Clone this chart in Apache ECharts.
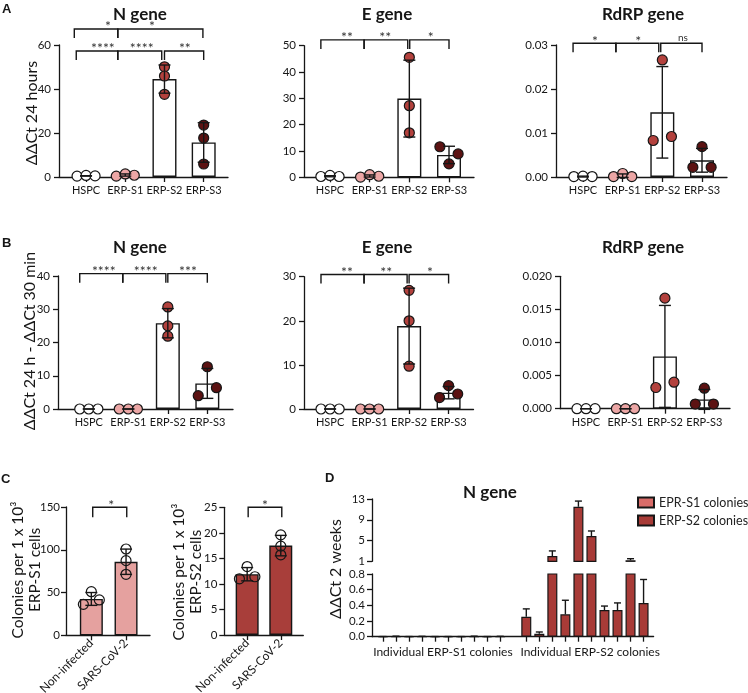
<!DOCTYPE html>
<html>
<head>
<meta charset="utf-8">
<script src="https://cdn.jsdelivr.net/npm/echarts@6/dist/echarts.min.js"></script>
<style>
html, body { margin: 0; padding: 0; background: #fff; }
#chart { width: 748px; height: 693px; }
</style>
</head>
<body>
<div id="chart"></div>
<script>
// 分组与颜色
var groups = ['HSPC', 'ERP-S1', 'ERP-S2', 'ERP-S3'];
var dotFill = ['#ffffff', '#eca6a5', '#b3413d', '#5c1212'];
var barFill = ['#ffffff', '#ffffff', '#ffffff', '#ffffff'];

// A - N gene (ΔΔCt 24 hours)
var aNPts = [[0.4, 0.7, 0.5], [0.4, 1.4, 0.8], [50.1, 45.9, 37.6], [23.6, 17.7, 5.9]];
var aNMean = [0.5, 0.9, 44.5, 15.7];
var aNSd = [0.1, 0.5, 6.4, 9.0];
var aNJit = [[-1, 0, 1], [-1, 0, 1], [0, 0, 0], [0, 0, 0]];
var aNBrk = [[-0.3, 0.81, 67.3], [0.81, 2.98, 67.3], [-0.25, 0.81, 57.3], [0.81, 1.93, 57.3], [2.0, 3.0, 57.3]];
var aNSig = [[0.56, 67.3, '*'], [1.68, 67.3, '*'], [0.43, 57.3, '****'], [1.42, 57.3, '****'], [2.52, 57.3, '**']];

// A - E gene
var aEPts = [[0.3, 0.7, 0.3], [0.1, 1.0, 0.4], [45.6, 27.2, 16.9], [11.6, 5.1, 8.9]];
var aEMean = [0.4, 0.5, 29.9, 8.5];
var aESd = [0.2, 0.4, 14.6, 3.3];
var aEJit = [[-1, 0, 1], [-1, 0, 1], [0, 0, 0], [-1, 0, 1]];
var aEBrk = [[-0.23, 0.86, 52.2], [0.86, 1.96, 52.2], [2.01, 3.0, 52.2]];
var aESig = [[0.43, 52.2, '**'], [1.39, 52.2, '**'], [2.54, 52.2, '*']];

// A - RdRP gene
var aRPts = [[0.0001, 0.0002, 0.0001], [0.0001, 0.0008, 0.0001], [0.0083, 0.0266, 0.0092], [0.0022, 0.0069, 0.0022]];
var aRMean = [0.0001, 0.0003, 0.0147, 0.0038];
var aRSd = [0.0001, 0.0004, 0.0104, 0.0027];
var aRJit = [[-1, 0, 1], [-1, 0, 1], [-1, 0, 1], [-1, 0, 1]];
var aRBrk = [[-0.25, 0.83, 0.0304], [0.83, 1.91, 0.0304], [1.96, 3.0, 0.0304]];
var aRSig = [[0.30, 0.0304, '*'], [1.39, 0.0304, '*'], [2.52, 0.0304, 'ns']];

// B - N gene (ΔΔCt 24 h - ΔΔCt 30 min)
var bNPts = [[0, 0, 0], [0, 0, 0], [30.7, 25.0, 21.9], [4.0, 12.7, 6.4]];
var bNMean = [0, 0, 25.8, 7.7];
var bNSd = [0, 0, 4.4, 4.5];
var bNJit = [[-1, 0, 1], [-1, 0, 1], [0, 0, 0], [-1, 0, 1]];
var bNBrk = [[-0.23, 0.86, 40.7], [0.86, 1.95, 40.7], [2.0, 3.0, 40.7]];
var bNSig = [[0.38, 40.7, '****'], [1.44, 40.7, '****'], [2.51, 40.7, '***']];

// B - E gene
var bEPts = [[0, 0, 0], [0, 0, 0], [26.9, 20.0, 9.7], [2.6, 5.3, 3.4]];
var bEMean = [0, 0, 18.8, 3.7];
var bESd = [0, 0, 8.6, 1.4];
var bEJit = [[-1, 0, 1], [-1, 0, 1], [0, 0, 0], [-1, 0, 1]];
var bEBrk = [[-0.23, 0.86, 30.5], [0.86, 1.95, 30.5], [2.0, 3.0, 30.5]];
var bESig = [[0.43, 30.5, '**'], [1.42, 30.5, '**'], [2.53, 30.5, '*']];

// B - RdRP gene
var bRPts = [[0, 0, 0], [0, 0, 0], [0.0032, 0.0167, 0.0040], [0.0007, 0.0031, 0.0007]];
var bRMean = [0, 0, 0.0079, 0.0014];
var bRSd = [0, 0, 0.0077, 0.0015];
var bRJit = [[-1, 0, 1], [-1, 0, 1], [-1, 0, 1], [-1, 0, 1]];

// C - 集落数
var cGroups = ['Non-infected', 'SARS-CoV-2'];
var c1Pts = [[36.2, 51.0, 41.3], [100.9, 87.3, 71.3]];
var c1Mean = [42.5, 86.0];
var c1Sd = [7.5, 14.8];
var c2Pts = [[11.0, 13.4, 11.4], [19.6, 17.4, 15.7]];
var c2Mean = [11.9, 17.5];
var c2Sd = [1.3, 2.0];
var cJit = [[-1, 0, 1], [0, 0, 0]];
var c1Brk = [[0.04, 1.02, 149.7]];
var c1Sig = [[0.57, 149.7, '*']];
var c2Brk = [[0.03, 1.03, 25.0]];
var c2Sig = [[0.53, 25.0, '*']];

// D - 单个集落 N gene 2 weeks
var dS1 = [0.001, 0.004, 0.001, 0.003, 0.001, 0.001, 0.001, 0.004, 0.001, 0.003];
var dS1Err = [0.001, 0.003, 0.001, 0.002, 0.001, 0.001, 0.001, 0.003, 0.001, 0.002];
var dS2 = [0.255, 0.038, 2.0, 0.285, 11.5, 5.87, 0.341, 0.341, 1.2, 0.43];
var dS2Err = [0.10, 0.022, 1.0, 0.18, 1.1, 0.97, 0.05, 0.09, 0.3, 0.3];
var dGroupLabels = ['Individual ERP-S1 colonies', 'Individual ERP-S2 colonies'];

var FONT = 'Lato';
var INK = '#161616';
var JIT = 0.23;

var option = {
    animation: false,
    backgroundColor: '#fff',
    textStyle: { fontFamily: FONT },
    grid: [], xAxis: [], yAxis: [], series: [], graphic: [],
    legend: {
        data: ['EPR-S1 colonies', 'ERP-S2 colonies'],
        orient: 'vertical', left: 632, top: 491,
        itemWidth: 16, itemHeight: 10, itemGap: 5, icon: 'rect',
        textStyle: { fontFamily: FONT, fontSize: 12.5, color: '#222' }
    }
};

function lineStyle() { return { color: INK, width: 1.3 }; }

function errorBar(cap, both) {
    return function (params, api) {
        var x = api.value(0), m = api.value(1), s = api.value(2);
        var top = api.coord([x, m + s]);
        var bot = api.coord([x, both ? m - s : m]);
        var c = cap / 2;
        var st = { stroke: INK, lineWidth: 1.4 };
        var kids = [
            { type: 'line', shape: { x1: top[0], y1: top[1], x2: bot[0], y2: bot[1] }, style: st },
            { type: 'line', shape: { x1: top[0] - c, y1: top[1], x2: top[0] + c, y2: top[1] }, style: st }
        ];
        if (both) kids.push({ type: 'line', shape: { x1: bot[0] - c, y1: bot[1], x2: bot[0] + c, y2: bot[1] }, style: st });
        return { type: 'group', children: kids };
    };
}

function bracket(drop) {
    return function (params, api) {
        var a = api.coord([api.value(0), api.value(2)]);
        var b = api.coord([api.value(1), api.value(2)]);
        return {
            type: 'polyline',
            shape: { points: [[a[0], a[1] + drop], [a[0], a[1]], [b[0], b[1]], [b[0], b[1] + drop]] },
            style: { stroke: INK, lineWidth: 1.4, fill: null }
        };
    };
}

function sigText(list) {
    return function (params, api) {
        var p = api.coord([api.value(0), api.value(1)]);
        var t = list[params.dataIndex][2];
        var ns = t === 'ns';
        return {
            type: 'text', x: p[0], y: p[1] - (ns ? 5 : 2),
            style: { text: t, fill: '#333', font: (ns ? '10px ' : '14px ') + FONT, align: 'center', verticalAlign: 'middle' }
        };
    };
}

// 柱+散点+误差线 面板
function addDotPanel(p) {
    var gi = option.grid.length;
    var cats = p.cats;
    var ticks = cats.map(function (c, i) { return i; });
    option.grid.push({ left: p.box[0], top: p.box[1], width: p.box[2], height: p.box[3], outerBoundsMode: 'none' });
    option.xAxis.push({
        type: 'value', gridIndex: gi, min: p.xr[0], max: p.xr[1],
        axisLine: { show: true, onZero: false, lineStyle: lineStyle() },
        axisTick: { show: true, length: 5, customValues: ticks, lineStyle: lineStyle() },
        axisLabel: {
            customValues: ticks, color: INK, fontFamily: FONT, fontSize: p.xFont || 11, hideOverlap: false,
            margin: p.xMargin || 8, rotate: p.rotate || 0,
            formatter: function (v) { return cats[Math.round(v)]; }
        },
        splitLine: { show: false }
    });
    option.yAxis.push({
        type: 'value', gridIndex: gi, min: p.y[0], max: p.y[1], interval: p.y[2],
        axisLine: { show: true, onZero: false, lineStyle: lineStyle() },
        axisTick: { show: true, length: 5, lineStyle: lineStyle() },
        axisLabel: {
            color: INK, fontFamily: FONT, fontSize: 11.5, margin: p.yMargin || 8,
            formatter: function (v) { return v.toFixed(p.y[3]); }
        },
        splitLine: { show: false }
    });
    option.series.push({
        type: 'bar', xAxisIndex: gi, yAxisIndex: gi, barWidth: p.barW, z: 2,
        itemStyle: { borderColor: INK, borderWidth: 1.4 },
        data: p.mean.map(function (m, i) { return { value: [i, m], itemStyle: { color: p.barFill[i] } }; })
    });
    var dots = [];
    p.pts.forEach(function (row, i) {
        row.forEach(function (v, k) {
            dots.push({ value: [i + p.jit[i][k] * JIT, v], itemStyle: { color: p.dotFill[i] } });
        });
    });
    option.series.push({
        type: 'scatter', xAxisIndex: gi, yAxisIndex: gi, symbolSize: 10, z: 3,
        itemStyle: { borderColor: INK, borderWidth: 1.2, opacity: 1 },
        data: dots
    });
    option.series.push({
        type: 'custom', xAxisIndex: gi, yAxisIndex: gi, z: 4,
        renderItem: errorBar(12, true),
        data: p.mean.map(function (m, i) { return [i, m, p.sd[i]]; })
    });
    if (p.brk) {
        option.series.push({ type: 'custom', xAxisIndex: gi, yAxisIndex: gi, z: 4, renderItem: bracket(p.drop || 9), data: p.brk });
        option.series.push({
            type: 'custom', xAxisIndex: gi, yAxisIndex: gi, z: 4, renderItem: sigText(p.sig),
            data: p.sig.map(function (s) { return [s[0], s[1]]; })
        });
    }
}

// 第一行 A
addDotPanel({ box: [59, 45, 169, 132], xr: [-0.69, 3.62], y: [0, 60, 20, 0], cats: groups, pts: aNPts, mean: aNMean, sd: aNSd, jit: aNJit, dotFill: dotFill, barFill: barFill, barW: 24, brk: aNBrk, sig: aNSig });
addDotPanel({ box: [304, 45.7, 170, 131.6], xr: [-0.655, 3.63], y: [0, 50, 10, 0], cats: groups, pts: aEPts, mean: aEMean, sd: aESd, jit: aEJit, dotFill: dotFill, barFill: barFill, barW: 24, brk: aEBrk, sig: aESig });
addDotPanel({ box: [556, 45, 171, 132], xr: [-0.68, 3.63], y: [0, 0.03, 0.01, 2], cats: groups, pts: aRPts, mean: aRMean, sd: aRSd, jit: aRJit, dotFill: dotFill, barFill: barFill, barW: 24, brk: aRBrk, sig: aRSig });
// 第二行 B
addDotPanel({ box: [58, 276, 175, 133], xr: [-0.78, 3.65], y: [0, 40, 10, 0], cats: groups, pts: bNPts, mean: bNMean, sd: bNSd, jit: bNJit, dotFill: dotFill, barFill: barFill, barW: 24, brk: bNBrk, sig: bNSig });
addDotPanel({ box: [304, 276.7, 169.5, 132.3], xr: [-0.66, 3.63], y: [0, 30, 10, 0], cats: groups, pts: bEPts, mean: bEMean, sd: bESd, jit: bEJit, dotFill: dotFill, barFill: barFill, barW: 24, brk: bEBrk, sig: bESig });
addDotPanel({ box: [560, 276.3, 170, 132.4], xr: [-0.66, 3.65], y: [0, 0.02, 0.005, 3], cats: groups, pts: bRPts, mean: bRMean, sd: bRSd, jit: bRJit, dotFill: dotFill, barFill: barFill, barW: 24 });
// C
var hollow = ['rgba(255,255,255,0)', 'rgba(255,255,255,0)'];
addDotPanel({ box: [66, 507, 84, 128.3], xr: [-0.73, 1.69], y: [0, 150, 50, 0], cats: cGroups, pts: c1Pts, mean: c1Mean, sd: c1Sd, jit: cJit, dotFill: hollow, barFill: ['#e5a19f', '#e5a19f'], barW: 23, brk: c1Brk, sig: c1Sig, drop: 10, rotate: 45, xMargin: 6, xFont: 12, yMargin: 6 });
addDotPanel({ box: [224.3, 507.3, 79, 127.7], xr: [-0.68, 1.67], y: [0, 25, 5, 0], cats: cGroups, pts: c2Pts, mean: c2Mean, sd: c2Sd, jit: cJit, dotFill: hollow, barFill: ['#a83e3a', '#a83e3a'], barW: 23, brk: c2Brk, sig: c2Sig, drop: 10, rotate: 45, xMargin: 6, xFont: 12, yMargin: 7 });

// D 断轴
(function () {
    var s1x = dS1.map(function (v, i) { return i; });
    var s2x = dS2.map(function (v, i) { return dS1.length + 1 + i; });
    var ticks = s1x.concat(s2x);
    var xr = [-0.84, 20.77];
    var gu = option.grid.length, gl = gu + 1;
    option.grid.push({ left: 372, top: 499, width: 281.6, height: 62.3, outerBoundsMode: 'none' });
    option.grid.push({ left: 372, top: 574, width: 281.6, height: 62.7, outerBoundsMode: 'none' });
    option.xAxis.push({ type: 'value', gridIndex: gu, min: xr[0], max: xr[1], show: false, splitLine: { show: false } });
    option.xAxis.push({
        type: 'value', gridIndex: gl, min: xr[0], max: xr[1],
        axisLine: { show: true, onZero: false, lineStyle: lineStyle() },
        axisTick: { show: true, length: 5, customValues: ticks, lineStyle: lineStyle() },
        axisLabel: {
            customValues: [4.6, 15.9], color: INK, fontFamily: FONT, fontSize: 12, margin: 9,
            formatter: function (v) { return v < 10 ? dGroupLabels[0] : dGroupLabels[1]; }
        },
        splitLine: { show: false }
    });
    var yBase = {
        type: 'value',
        axisLine: { show: true, onZero: false, lineStyle: lineStyle() },
        axisTick: { show: true, length: 5, lineStyle: lineStyle() },
        splitLine: { show: false }
    };
    option.yAxis.push(Object.assign({}, yBase, {
        gridIndex: gu, min: 1, max: 13, interval: 4,
        axisLabel: { color: INK, fontFamily: FONT, fontSize: 11.5, margin: 7 }
    }));
    option.yAxis.push(Object.assign({}, yBase, {
        gridIndex: gl, min: 0, max: 0.8, interval: 0.2,
        axisLabel: { color: INK, fontFamily: FONT, fontSize: 11.5, margin: 7, formatter: function (v) { return v.toFixed(1); } }
    }));
    var s1Color = '#d96c69', s2Color = '#a83b37';
    var barStyle = function (c) { return { color: c, borderColor: INK, borderWidth: 1.2 }; };
    option.series.push({
        name: 'EPR-S1 colonies', type: 'bar', xAxisIndex: gl, yAxisIndex: gl, barWidth: 10, barGap: '-100%', z: 2,
        itemStyle: barStyle(s1Color), data: dS1.map(function (v, i) { return [s1x[i], v]; })
    });
    option.series.push({
        name: 'ERP-S2 colonies', type: 'bar', xAxisIndex: gl, yAxisIndex: gl, barWidth: 10, barGap: '-100%', z: 2,
        itemStyle: barStyle(s2Color), data: dS2.map(function (v, i) { return [s2x[i], v]; })
    });
    option.series.push({
        name: 'ERP-S2 colonies', type: 'bar', xAxisIndex: gu, yAxisIndex: gu, barWidth: 10, z: 2,
        itemStyle: barStyle(s2Color),
        data: dS2.map(function (v, i) { return v > 1 ? [s2x[i], v] : [s2x[i], '-']; })
    });
    var low = [], up = [];
    dS1.forEach(function (v, i) { low.push([s1x[i], v, dS1Err[i]]); });
    dS2.forEach(function (v, i) {
        if (v > 1) up.push([s2x[i], v, dS2Err[i]]);
        else low.push([s2x[i], v, dS2Err[i]]);
    });
    option.series.push({ type: 'custom', xAxisIndex: gl, yAxisIndex: gl, z: 4, renderItem: errorBar(7, false), data: low });
    option.series.push({ type: 'custom', xAxisIndex: gu, yAxisIndex: gu, z: 4, renderItem: errorBar(7, false), data: up });
})();

// 文字
function txt(x, y, s, font, extra) {
    var el = { type: 'text', x: x, y: y, silent: true,
        style: { text: s, font: font, fill: INK, align: 'center', verticalAlign: 'middle' } };
    if (extra) {
        if (extra.rot) el.rotation = Math.PI / 2;
        if (extra.align) el.style.align = extra.align;
        if (extra.lh) el.style.lineHeight = extra.lh;
    }
    return el;
}
var TITLE = 'bold 17px ' + FONT, LET = 'bold 13px "Liberation Sans"', YN = '16px ' + FONT, YC = '15.5px ' + FONT;
option.graphic = [
    txt(2, 9, 'A', LET, { align: 'left' }),
    txt(2, 243, 'B', LET, { align: 'left' }),
    txt(1, 479, 'C', LET, { align: 'left' }),
    txt(325, 478.5, 'D', LET, { align: 'left' }),
    txt(140, 15, 'N gene', TITLE), txt(387, 15, 'E gene', TITLE), txt(643, 15, 'RdRP gene', TITLE),
    txt(140, 248, 'N gene', TITLE), txt(387, 248, 'E gene', TITLE), txt(643, 248, 'RdRP gene', TITLE),
    txt(490, 493, 'N gene', TITLE),
    txt(32, 113, 'ΔΔCt 24 hours', YN, { rot: true }),
    txt(30, 341, 'ΔΔCt 24 h - ΔΔCt 30 min', YN, { rot: true }),
    txt(26, 570, 'Colonies per 1 x 10³\nERP-S1 cells', YC, { rot: true, lh: 17 }),
    txt(187, 572, 'Colonies per 1 x 10³\nERP-S2 cells', YC, { rot: true, lh: 17 }),
    txt(336, 569, 'ΔΔCt 2 weeks', YN, { rot: true })
];

var myChart = echarts.init(document.getElementById('chart'));
myChart.setOption(option);
</script>
</body>
</html>
